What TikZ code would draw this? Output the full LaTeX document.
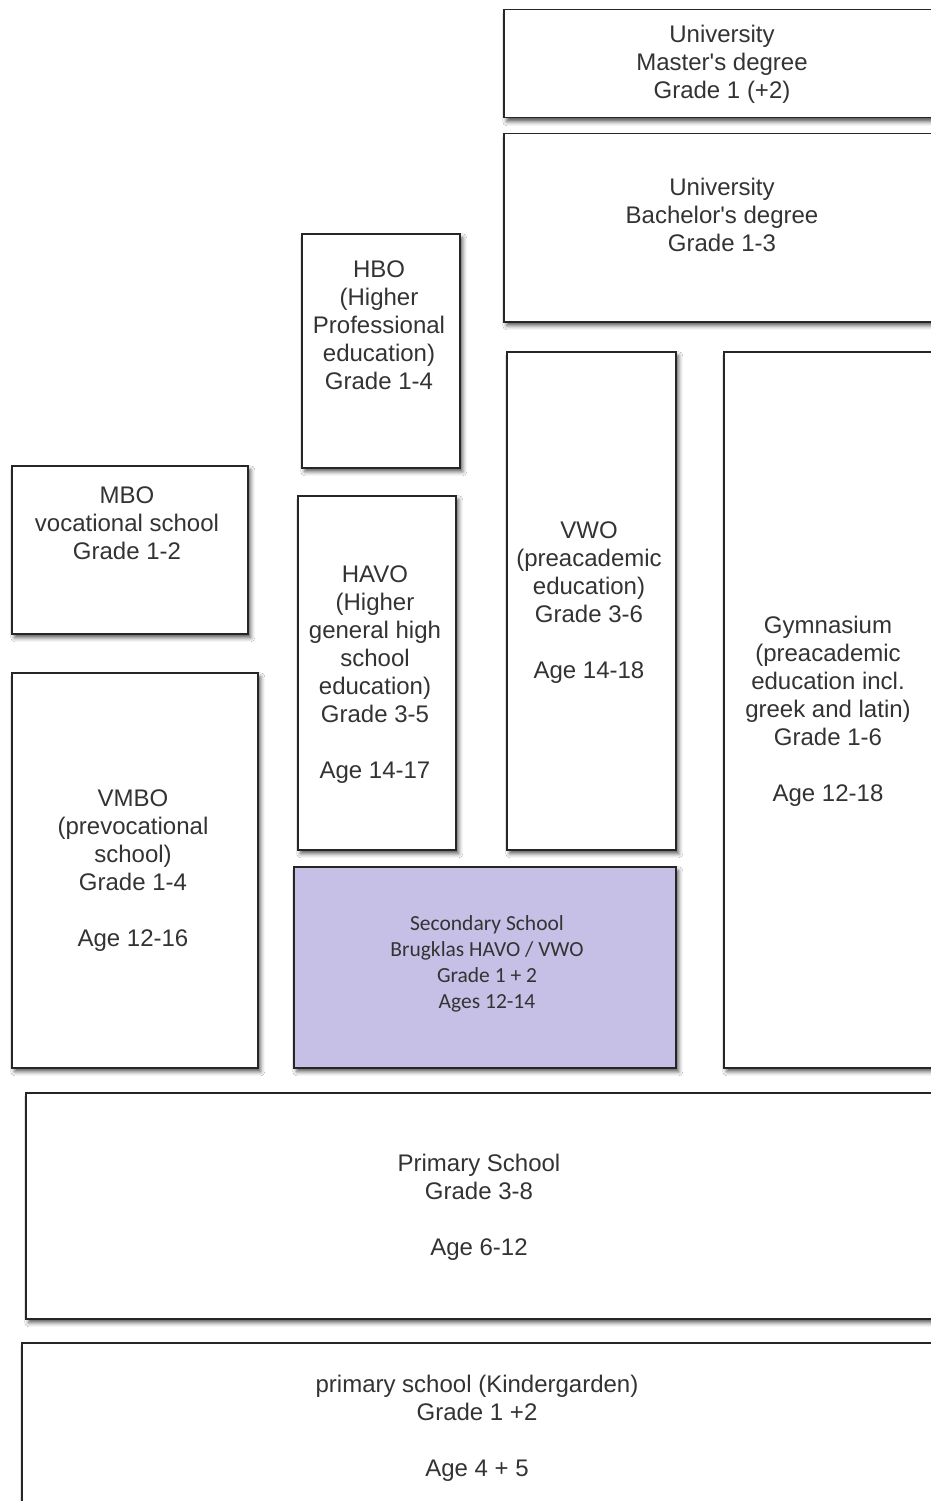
\documentclass[tikz,border=0pt]{standalone}
\usepackage{fontspec}
\setmainfont{Liberation Sans}
\newfontfamily\calfont{Carlito}
\usetikzlibrary{shadows.blur}
\definecolor{lavender}{RGB}{198,192,230}
\begin{document}
\begin{tikzpicture}[x=1pt,y=-1pt,
  box/.style={draw=black!85, line width=1.5pt, fill=white, rectangle, inner sep=0pt, anchor=north west,
    blur shadow={shadow xshift=3pt, shadow yshift=-4pt, shadow blur radius=4pt, shadow opacity=65}},
  lbl/.style={align=center, inner sep=0pt, font=\fontsize{24}{28}\selectfont, text=black!80},
  slbl/.style={align=center, inner sep=0pt, font=\calfont\fontsize{21.5}{26}\selectfont, text=black!80}]
\useasboundingbox (0,0) rectangle (931,1501);
\clip (0,0) rectangle (931,1501);
\fill[white] (0,0) rectangle (931,1501);
% boxes
\node[box, minimum width=440, minimum height=108] (master) at (503,9) {};
\node[box, minimum width=440, minimum height=188] (bachelor) at (503,133) {};
\node[box, minimum width=158, minimum height=234] (hbo) at (301,233) {};
\node[box, minimum width=236, minimum height=168] (mbo) at (11,465) {};
\node[box, minimum width=158, minimum height=354] (havo) at (297,495) {};
\node[box, minimum width=169, minimum height=498] (vwo) at (506,351) {};
\node[box, minimum width=220, minimum height=716] (gym) at (723,351) {};
\node[box, minimum width=246, minimum height=395] (vmbo) at (11,672) {};
\node[box, fill=lavender, minimum width=382, minimum height=201] (sec) at (293,866) {};
\node[box, minimum width=920, minimum height=226] (primary) at (25,1092) {};
\node[box, minimum width=920, minimum height=200] (kinder) at (21,1342) {};
% labels
\node[lbl] (tmaster) at (722,64) {University\\Master\textquotesingle s degree\\Grade 1 (+2)};
\node[lbl] (tbachelor) at (722,215) {University\\Bachelor\textquotesingle s degree\\Grade 1-3};
\node[lbl] (thbo) at (379,325) {HBO\\(Higher\\Professional\\education)\\Grade 1-4};
\node[lbl] (tmbo) at (127,523) {MBO\\vocational school\\Grade 1-2};
\node[lbl] (thavo) at (375,675) {HAVO\\(Higher\\general high\\school\\education)\\Grade 3-5\\[28pt]Age 14-17};
\node[lbl] (tvwo) at (589,603) {VWO\\(preacademic\\education)\\Grade 3-6\\[28pt]Age 14-18};
\node[lbl] (tgym) at (828,711) {Gymnasium\\(preacademic\\education incl.\\greek and latin)\\Grade 1-6\\[28pt]Age 12-18};
\node[lbl] (tvmbo) at (133,871) {VMBO\\(prevocational\\school)\\Grade 1-4\\[28pt]Age 12-16};
\node[slbl] (tsec) at (487,964) {Secondary School\\Brugklas HAVO / VWO\\Grade 1 + 2\hspace{14pt}\\Ages 12-14\hspace{14pt}};
\node[lbl] (tprimary) at (479,1207) {Primary School\\Grade 3-8\\[28pt]Age 6-12};
\node[lbl] (tkinder) at (477,1428) {primary school (Kindergarden)\\Grade 1 +2\\[28pt]Age 4 + 5};
\end{tikzpicture}
\end{document}
